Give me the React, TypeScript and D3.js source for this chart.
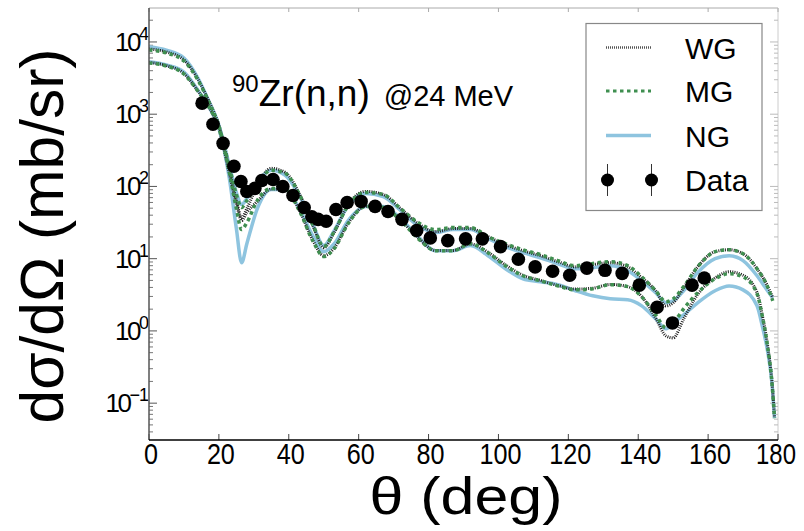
import React from "react";
import * as d3 from "d3";

// ---- data ----
const thetaUpper = [0,5,10,14,17,20,23,25,26.5,28,31,35,39,43,47,50,53,57,62,67,72,77,82,87,92,97,102,107,112,117,122,127,132,137,141,145,148,150,153,157,162,166,170,174,177,178.5];
const upperNG = [8600,7700,6000,3160,1560,703,196,82.6,56.2,68.1,114,167,142,75,28.7,15.2,24.5,54.4,80,72.6,46.4,28.7,23,25.3,25.3,19,14.7,12.1,10.3,8.5,7.26,7.5,8.0,6.8,4.95,3.37,2.45,2.61,3.6,6.4,10,11,9.4,5.8,3.6,2.87];
const upperWG = [8000,7260,5620,3060,1563,703,178,64,37,49.4,103,178,156,80,27.8,14.2,23,56.2,85.3,77.4,49.4,30.6,23.7,26.1,26.1,20.2,15.6,12.9,11,9.1,7.7,8.3,8.8,7.7,5.45,3.6,2.22,2.45,3.95,7.7,12.5,13.3,11.7,7.26,4.2,2.87];
const upperMG = [7740,7030,5450,2970,1517,681,184,77.4,51,64,107,167,152,77.4,28.7,14.7,23.7,54.4,82.6,77.4,49.4,31.6,25.3,27,27,20.2,16.1,13.3,11.4,9.4,8.0,8.6,9.1,8.0,5.6,3.6,2.53,2.78,4.1,7.7,12.5,13.3,11.7,7.26,4.1,2.61];

const thetaLower = [0,5,10,14,17,20,23,25,26.5,28,31,35,39,43,47,50,53,57,62,67,72,77,82,87,92,97,102,107,112,117,122,127,132,137,141,145,148,150,153,157,162,166,170,174,175.5,177,178.3,179];
const lowerNG = [5320,4800,3830,2150,1290,640,129,26.1,8.8,16.1,49.4,90.8,90.8,49.4,20.2,12.5,16.1,33.7,52.7,52.7,36,20.2,12.9,12.9,15.2,11,7.26,5.27,4.8,4.36,3.6,3.06,2.78,2.7,2.22,1.47,1.07,1.29,1.67,2.45,3.6,4.2,3.7,2.22,1.17,0.53,0.184,0.062];
const lowerMG = [5110,4640,3600,2080,1290,640,156,49.4,25.3,31.6,64,93.8,90.8,46.4,17.2,10.7,13.8,30.6,52.7,51,33.7,19,12.9,12.9,16.1,12.1,8.0,5.8,4.95,4.2,3.7,3.83,4.36,4.1,2.96,1.67,1.1,1.29,2.02,3.37,5.27,6.2,5.6,3.27,1.61,0.62,0.184,0.062];
const lowerWG = [5200,4700,3650,2100,1290,640,150,58,33.7,43.6,62,92,90,47,17.5,11,14,31,53,51.5,34,19.5,13,13,16,12.3,8.2,5.9,5,4.25,3.8,3.9,4.4,4.1,3.0,1.5,0.85,0.8,1.47,3.2,5.4,6.6,5.9,3.4,1.65,0.64,0.19,0.063];

const thetaData = [15.2,18.3,21.2,24.3,26.3,28.0,30.3,32.3,35.5,38.3,41.2,44.4,46.6,48.4,50.7,53.5,56.7,60.7,64.7,68.4,72.4,76.6,80.5,85.5,90.6,95.4,100.6,105.7,110.5,115.5,120.4,125.3,130.5,135.4,140.3,145.4,149.8,155.4,158.9];
const sigmaData = [1422,726,395,190,117,85,94,121,125,100,75,51,38,35,33,48,60,62,53,45,35,24.5,19.4,17.8,18.8,18.8,14.7,9.8,7.7,6.7,5.9,7.4,6.9,6.25,4.3,2.13,1.29,4.3,5.4];

const xTicks = [0,20,40,60,80,100,120,140,160,180];
const yExponents = [-1,0,1,2,3,4];
const legendLabels = ["WG","MG","NG","Data"];

// ---- styles ----
const W = 804, H = 531;
const L = 149, R = 778, T = 8, B = 440;
const NG_COLOR = "#8ec4df";
const MG_COLOR = "#3f8f50";
const WG_COLOR = "#222";

export default function App() {
  const x = d3.scaleLinear().domain([0, 180]).range([L, R]);
  const y = d3.scaleLog().domain([Math.pow(10, -1.51), Math.pow(10, 4.47)]).range([B, T]);

  const mk = (th: number[], v: number[]) =>
    d3.line<number>().x((_, i) => x(th[i])).y((d) => y(d)).curve(d3.curveMonotoneX)(v) as string;

  const curves = [
    { d: mk(thetaLower, lowerNG), stroke: NG_COLOR, w: 3.5, dash: undefined },
    { d: mk(thetaUpper, upperNG), stroke: NG_COLOR, w: 3.5, dash: undefined },
    { d: mk(thetaLower, lowerWG), stroke: WG_COLOR, w: 3, dash: "1,1.2" },
    { d: mk(thetaUpper, upperWG), stroke: WG_COLOR, w: 3, dash: "1,1.2" },
    { d: mk(thetaLower, lowerMG), stroke: MG_COLOR, w: 3.5, dash: "3.5,3.5" },
    { d: mk(thetaUpper, upperMG), stroke: MG_COLOR, w: 3.5, dash: "3.5,3.5" },
  ];

  // minor ticks on log axis
  const minor: number[] = [];
  for (let e = -2; e <= 4; e++) {
    for (let k = 2; k <= 9; k++) {
      const v = k * Math.pow(10, e);
      const yy = y(v);
      if (yy >= T && yy <= B) minor.push(yy);
    }
  }

  const tickFont = "'Liberation Sans', Arial, sans-serif";
  const legY = [47.5, 91, 135.5, 180];

  return (
    <svg width={W} height={H} style={{ position: "absolute", left: 0, top: 0, background: "#fff" }}
      fontFamily={tickFont}>
      <defs>
        <clipPath id="plotclip">
          <rect x={L} y={T} width={R - L} height={B - T} />
        </clipPath>
      </defs>
      <rect x={0} y={0} width={W} height={H} fill="#fff" />

      {/* spines */}
      <line x1={L} y1={T} x2={R} y2={T} stroke="#aaa" strokeWidth={1} />
      <line x1={R} y1={T} x2={R} y2={B} stroke="#ccc" strokeWidth={1} />

      {/* x ticks */}
      {xTicks.map((t) => {
        const s = String(t);
        return (
          <g key={"xt" + t}>
            <line x1={x(t)} x2={x(t)} y1={B} y2={B - 6} stroke="#444" strokeWidth={1} />
            <line x1={x(t)} x2={x(t)} y1={T} y2={T + 4} stroke="#aaa" strokeWidth={1} />
            <text x={x(t) + (t === 180 ? -2 : 2)} y={464} textAnchor="middle" fontSize={30} fill="#000"
              textLength={s.length * (t === 180 ? 13.3 : 14)} lengthAdjust="spacingAndGlyphs">{s}</text>
          </g>
        );
      })}

      {/* y ticks */}
      {minor.map((yy, i) => (
        <g key={"ym" + i}>
          <line x1={L} x2={L + 4} y1={yy} y2={yy} stroke="#777" strokeWidth={1} />
          <line x1={R} x2={R - 4} y1={yy} y2={yy} stroke="#bbb" strokeWidth={1} />
        </g>
      ))}
      {yExponents.map((e) => {
        const yy = y(Math.pow(10, e));
        return (
          <g key={"ye" + e}>
            <line x1={L} x2={L + 8} y1={yy} y2={yy} stroke="#555" strokeWidth={1} />
            <line x1={R} x2={R - 8} y1={yy} y2={yy} stroke="#bbb" strokeWidth={1} />
            <text x={148} y={yy + 9} textAnchor="end" fontSize={26} letterSpacing={-2.5} fill="#000">
              10
              <tspan dy={-11} fontSize={18} letterSpacing={-1}>{e < 0 ? "\u2212" + Math.abs(e) : String(e)}</tspan>
            </text>
          </g>
        );
      })}

      {/* curves */}
      <g clipPath="url(#plotclip)">
        {curves.map((c, i) => (
          <path key={"c" + i} d={c.d} fill="none" stroke={c.stroke} strokeWidth={c.w}
            strokeDasharray={c.dash} strokeLinejoin="round" />
        ))}
        {thetaData.map((t, i) => (
          <circle key={"p" + i} cx={x(t)} cy={y(sigmaData[i])} r={6.8} fill="#000" />
        ))}
      </g>

      {/* left & bottom spines on top */}
      <line x1={L} y1={T} x2={L} y2={B} stroke="#555" strokeWidth={1.5} />
      <line x1={L} y1={B} x2={R} y2={B} stroke="#000" strokeWidth={1.5} />

      {/* title */}
      <text x={232} y={106} fill="#000" fontFamily="'Liberation Sans', Arial, sans-serif">
        <tspan fontSize={24} dy={-14}>90</tspan>
        <tspan fontSize={37} dy={14}>Zr(n,n)</tspan>
        <tspan fontSize={29} dx={14}>@24 MeV</tspan>
      </text>

      {/* legend */}
      <rect x={586} y={23.5} width={176} height={187} fill="#fff" stroke="#888" strokeWidth={1.2} />
      <line x1={606} x2={651} y1={legY[0]} y2={legY[0]} stroke="#555" strokeWidth={2.5} strokeDasharray="1,1" />
      <line x1={606} x2={651} y1={legY[1]} y2={legY[1]} stroke={MG_COLOR} strokeWidth={3} strokeDasharray="3.5,3.5" />
      <line x1={606} x2={651} y1={legY[2]} y2={legY[2]} stroke={NG_COLOR} strokeWidth={3.5} />
      {[607.5, 651.5].map((cx) => (
        <g key={"lg" + cx}>
          <line x1={cx} x2={cx} y1={legY[3] - 16} y2={legY[3] + 16} stroke="#333" strokeWidth={1} />
          <circle cx={cx} cy={legY[3]} r={6.5} fill="#000" />
        </g>
      ))}
      {legendLabels.map((lab, i) => (
        <text key={lab} x={685} y={legY[i] + 11} fontSize={30} fill="#000">{lab}</text>
      ))}

      {/* axis labels */}
      <text x={466} y={514} textAnchor="middle" fontSize={52} fill="#000" textLength={193}
        lengthAdjust="spacingAndGlyphs">θ (deg)</text>
      <text transform="translate(63,236) rotate(-90)" textAnchor="middle" fontSize={62} fill="#000"
        textLength={375} lengthAdjust="spacingAndGlyphs">dσ/dΩ (mb/sr)</text>
    </svg>
  );
}
